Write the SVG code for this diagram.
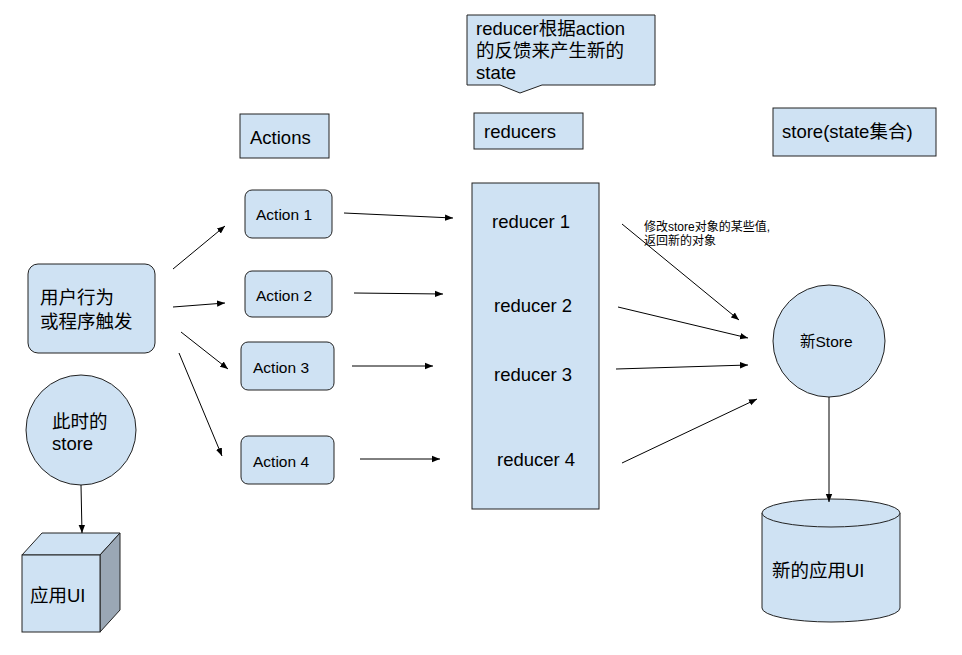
<svg xmlns="http://www.w3.org/2000/svg" width="962" height="655" viewBox="0 0 962 655">
<style>
.box{fill:#cfe2f3;stroke:#222;stroke-width:1}
.t{font-family:"Liberation Sans","Noto Sans CJK SC",sans-serif;fill:#000}
.l{font-size:18.5px}
.s{font-size:15.5px}
.n{font-size:12px}
.c{fill:none;stroke:#000;stroke-width:1;marker-end:url(#ah)}
</style>
<defs>
<marker id="ah" viewBox="0 0 10 10" refX="10" refY="5" markerWidth="8" markerHeight="8" markerUnits="userSpaceOnUse" orient="auto">
<path d="M0,1 L10,5 L0,9 z" fill="#000"/>
</marker>
</defs>
<rect width="962" height="655" fill="#fff"/>
<g id="callout">
<path class="box" d="M467,15 H655 V85 H542 L520,93 L500,85 H467 Z"/>
<text class="t l" x="476" y="35">reducer根据action</text>
<text class="t l" x="476" y="57">的反馈来产生新的</text>
<text class="t l" x="476" y="79">state</text>
</g>
<g id="actions-label"><rect class="box" x="240" y="114" width="89" height="44"/><text class="t l" x="250" y="144">Actions</text></g>
<g id="reducers-label"><rect class="box" x="474" y="113" width="109" height="36"/><text class="t l" x="484" y="138">reducers</text></g>
<g id="store-label"><rect class="box" x="773" y="108" width="163" height="48"/><text class="t l" x="782" y="138">store(state集合)</text></g>
<g id="user"><rect class="box" x="28" y="264" width="127" height="89" rx="10"/><text class="t l" x="40" y="304">用户行为</text><text class="t l" x="40" y="328">或程序触发</text></g>
<g id="action1"><rect class="box" x="245" y="190" width="87" height="48" rx="7"/><text class="t s" x="256" y="220">Action 1</text></g>
<g id="action2"><rect class="box" x="245" y="271" width="87" height="46" rx="7"/><text class="t s" x="256" y="301">Action 2</text></g>
<g id="action3"><rect class="box" x="241" y="342" width="93" height="48" rx="7"/><text class="t s" x="253" y="373">Action 3</text></g>
<g id="action4"><rect class="box" x="241" y="436" width="93" height="48" rx="7"/><text class="t s" x="253" y="467">Action 4</text></g>
<g id="current-store"><circle class="box" cx="81" cy="430" r="55"/><text class="t l" x="52" y="428">此时的</text><text class="t l" x="52" y="450">store</text></g>
<g id="app-ui">
<path class="box" d="M22,555 L42,533 H120 L100,555 Z"/>
<path d="M100,555 L120,533 V610 L100,632 Z" fill="#9aa7b5" stroke="#222"/>
<rect class="box" x="22" y="555" width="78" height="77"/>
<text class="t l" x="30" y="602">应用UI</text>
</g>
<g id="reducers">
<rect class="box" x="472" y="183" width="127" height="326"/>
<text class="t l" x="492" y="228">reducer 1</text>
<text class="t l" x="494" y="312">reducer 2</text>
<text class="t l" x="494" y="381">reducer 3</text>
<text class="t l" x="497" y="466">reducer 4</text>
</g>
<g id="new-store"><circle class="box" cx="829" cy="341" r="56"/><text class="t s" x="800" y="347">新Store</text></g>
<g id="new-ui">
<path class="box" d="M762,513 V608 A69,14 0 0 0 900,608 V513"/>
<ellipse class="box" cx="831" cy="513" rx="69" ry="14"/>
<text class="t l" x="772" y="577">新的应用UI</text>
</g>
<g id="note"><text class="t n" x="644" y="231">修改store对象的某些值,</text><text class="t n" x="644" y="245">返回新的对象</text></g>
<g id="connectors">
<line class="c" x1="173" y1="269" x2="225" y2="226"/>
<line class="c" x1="173" y1="307" x2="225" y2="303"/>
<line class="c" x1="181" y1="332" x2="228" y2="369"/>
<line class="c" x1="179" y1="353" x2="222" y2="456"/>
<line class="c" x1="344" y1="213" x2="453" y2="218"/>
<line class="c" x1="354" y1="293" x2="443" y2="294"/>
<line class="c" x1="352" y1="366" x2="433" y2="366"/>
<line class="c" x1="360" y1="459" x2="440" y2="459"/>
<line class="c" x1="622" y1="224" x2="739" y2="320"/>
<line class="c" x1="618" y1="307" x2="748" y2="338"/>
<line class="c" x1="616" y1="369" x2="748" y2="365"/>
<line class="c" x1="622" y1="463" x2="757" y2="399"/>
<line class="c" x1="81" y1="485" x2="82" y2="533"/>
<line class="c" x1="829" y1="397" x2="829" y2="502"/>
</g>
</svg>
